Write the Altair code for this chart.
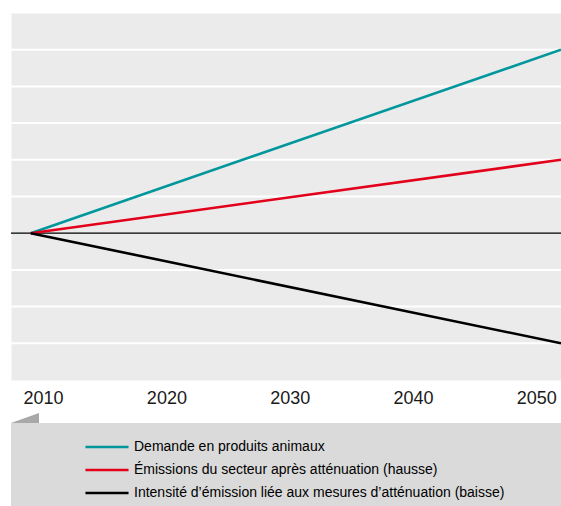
import altair as alt
import pandas as pd

years = [2009, 2052]
series = [
    "Demande en produits animaux",
    "Émissions du secteur après atténuation (hausse)",
    "Intensité d’émission liée aux mesures d’atténuation (baisse)",
]
colors = ["#00979c", "#e2001a", "#000000"]
demande = [0, 5]
emissions = [0, 2]
intensite = [0, -3]
x_ticks = [2010, 2020, 2030, 2040, 2050]
y_grid = [-3, -2, -1, 1, 2, 3, 4, 5]

rows = []
for name, vals in zip(series, [demande, emissions, intensite]):
    for yr, v in zip(years, vals):
        rows.append({"serie": name, "annee": yr, "valeur": v})
df = pd.DataFrame(rows)
grid_df = pd.DataFrame({"g": y_grid})

W, H = 550, 367
xscale = alt.Scale(domain=[2007.4, 2052], nice=False, zero=False)
yscale = alt.Scale(domain=[-4, 6], nice=False, zero=False)
yaxis = alt.Axis(title=None, labels=False, ticks=False, domain=False, grid=False)

box = alt.Chart(alt.Data(values=[{"k": 1}])).mark_rect(
    color="#dadada", clip=False
).encode(x=alt.value(0), x2=alt.value(W), y=alt.value(410), y2=alt.value(500))

tab = alt.Chart(alt.Data(values=[{"k": 1}])).mark_point(
    shape="M-1,0.357L1,0.357L1,-0.357Z", size=784, filled=True,
    color="#a8a8a8", opacity=1, strokeWidth=0, clip=False
).encode(x=alt.value(14), y=alt.value(405))

grid = alt.Chart(grid_df).mark_rule(color="white", strokeWidth=2).encode(
    y=alt.Y("g:Q", scale=yscale, axis=yaxis)
)

zero = alt.Chart(alt.Data(values=[{"k": 1}])).mark_rule(
    color="black", strokeWidth=1.2
).encode(y=alt.datum(0, scale=yscale))

lines = alt.Chart(df).mark_line(strokeWidth=2.6, clip=True).encode(
    x=alt.X("annee:Q", scale=xscale, axis=alt.Axis(
        values=x_ticks, format="d", title=None, grid=False, domain=False,
        ticks=False, labelFontSize=18, labelFont="Liberation Sans",
        labelColor="#1a1a1a", labelPadding=9, labelFlush=False)),
    y=alt.Y("valeur:Q", scale=yscale, axis=yaxis),
    color=alt.Color("serie:N", scale=alt.Scale(domain=series, range=colors),
                    legend=alt.Legend(
                        orient="none", legendX=89, legendY=427, title=None,
                        symbolType="M-4,0L4,0", symbolSize=116, symbolStrokeWidth=2.5,
                        labelFont="Liberation Sans",
                        labelFontSize=14, labelOffset=20, labelColor="black",
                        padding=0, rowPadding=9, labelLimit=600)),
    detail="serie:N",
)

chart = alt.layer(box, tab, grid, zero, lines).properties(
    width=W, height=H,
    padding={"left": 11, "top": 13, "right": 0, "bottom": 126},
    autosize=alt.AutoSizeParams(type="none"),
    background="white",
).configure_view(fill="#ebebeb", stroke="transparent")

chart.save("out.html", embed_options={"renderer": "svg", "actions": False})
